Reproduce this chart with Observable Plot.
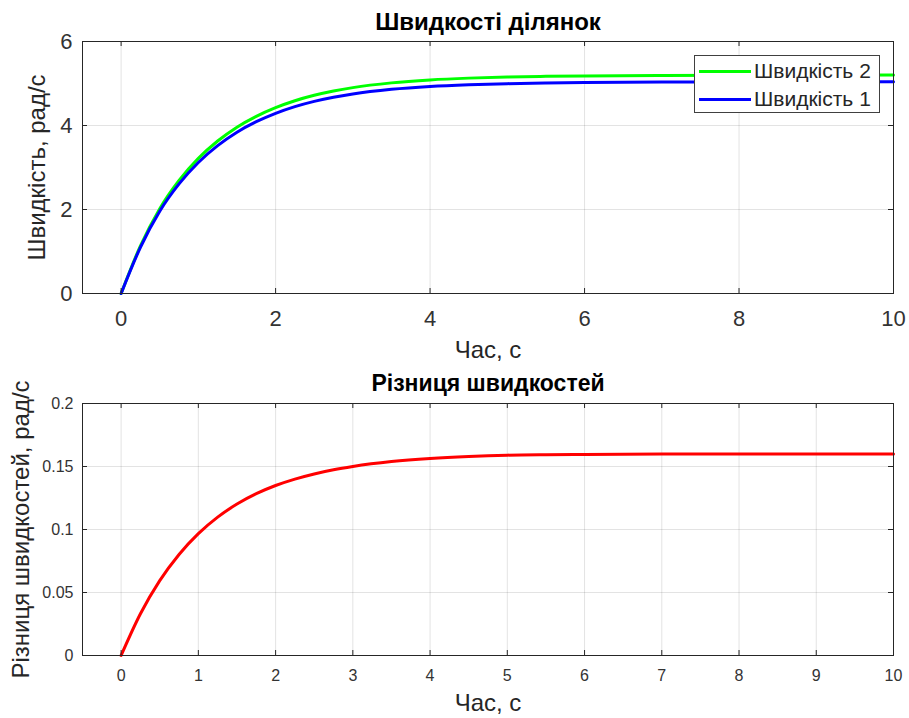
<!DOCTYPE html>
<html>
<head>
<meta charset="utf-8">
<script src="https://cdn.jsdelivr.net/npm/d3@7"></script>
<script src="https://cdn.jsdelivr.net/npm/@observablehq/plot@0.6"></script>
<style>
  body { margin: 0; background: #fff; }
  #wrap { position: relative; width: 909px; height: 718px; font-family: "Liberation Sans", Arial, sans-serif; }
  #wrap svg { display: block; }
  .legend { position: absolute; left: 694px; top: 55px; width: 186px; height: 58px; box-sizing: border-box;
            border: 1px solid #404040; background: #fff; }
  .legend .item { position: absolute; left: 4px; height: 24px; display: flex; align-items: center;
                  font-size: 21px; color: #262626; white-space: nowrap; }
  .legend .swatch { width: 52px; height: 3px; margin-right: 3px; }
</style>
</head>
<body>
<div id="wrap">
  <div id="top"></div>
  <div id="bottom"></div>
</div>
<script>
// ---- data ----
const time      = [0, 0.25, 0.5, 0.75, 1, 1.25, 1.5, 1.75, 2, 2.25, 2.5, 2.75, 3, 3.5, 4, 4.5, 5, 5.5, 6, 7, 8, 10];
const speed1    = [0, 1.10, 1.96, 2.61, 3.12, 3.52, 3.84, 4.09, 4.29, 4.45, 4.575, 4.674, 4.752, 4.861, 4.929, 4.97, 4.996, 5.011, 5.021, 5.033, 5.038, 5.04];
const speed2    = [0, 1.133, 2.019, 2.69, 3.217, 3.63, 3.96, 4.218, 4.425, 4.59, 4.719, 4.821, 4.902, 5.015, 5.085, 5.128, 5.155, 5.17, 5.181, 5.193, 5.198, 5.20];
const speedDiff = [0, 0.0331, 0.0594, 0.0802, 0.0967, 0.1098, 0.1202, 0.1284, 0.1349, 0.140, 0.1441, 0.1474, 0.150, 0.1539, 0.1564, 0.158, 0.159, 0.1594, 0.1596, 0.1599, 0.160, 0.160];

const seriesNames = ["Швидкість 2", "Швидкість 1"];
const seriesColors = ["#00ff00", "#0000ff"];
const diffColor = "#ff0000";

const topTitle = "Швидкості ділянок";
const bottomTitle = "Різниця швидкостей";
const xLabel = "Час, с";
const topYLabel = "Швидкість, рад/с";
const bottomYLabel = "Різниця швидкостей, рад/с";

const topXTicks = [0, 2, 4, 6, 8, 10];
const topYTicks = [0, 2, 4, 6];
const bottomXTicks = [0, 1, 2, 3, 4, 5, 6, 7, 8, 9, 10];
const bottomYTicks = [0, 0.05, 0.1, 0.15, 0.2];
const bottomYTickLabels = ["0", "0.05", "0.1", "0.15", "0.2"];

// ---- tables ----
const rows = time.map((t, i) => ({t, v1: speed1[i], v2: speed2[i], d: speedDiff[i]}));

const FONT = '"Liberation Sans", Arial, sans-serif';
const AX = "#262626";
const GRID = {stroke: "#262626", strokeOpacity: 0.13};
const W = 909, ML = 82, MR = 16;

function inwardTicks(xt, yt, plotW, plotH) {
  return [
    Plot.tickX(xt, {x: d => d, insetTop: plotH - 5, stroke: AX}),
    Plot.tickX(xt, {x: d => d, insetBottom: plotH - 5, stroke: AX}),
    Plot.tickY(yt, {y: d => d, insetRight: plotW - 5, stroke: AX}),
    Plot.tickY(yt, {y: d => d, insetLeft: plotW - 5, stroke: AX})
  ];
}

function label(text, opts) {
  return Plot.text([text], {text: d => d, textAnchor: "middle", lineAnchor: "middle", ...opts});
}

// ---- top panel ----
{
  const H = 370, MT = 41, MB = 77;
  const plotW = W - ML - MR, plotH = H - MT - MB;
  const chart = Plot.plot({
    width: W, height: H, marginTop: MT, marginBottom: MB, marginLeft: ML, marginRight: MR,
    style: {fontFamily: FONT, color: AX, background: "#fff", overflow: "visible"},
    x: {domain: [-0.5, 10]},
    y: {domain: [0, 6]},
    marks: [
      Plot.gridX(topXTicks, GRID),
      Plot.gridY(topYTicks, GRID),
      Plot.line(rows, {x: "t", y: "v2", stroke: seriesColors[0], strokeWidth: 3, curve: "monotone-x"}),
      Plot.line(rows, {x: "t", y: "v1", stroke: seriesColors[1], strokeWidth: 3, curve: "monotone-x"}),
      ...inwardTicks(topXTicks.filter(d => d < 10), topYTicks.filter(d => d > 0 && d < 6), plotW, plotH),
      Plot.axisX(topXTicks, {tickSize: 0, tickPadding: 17, fontSize: 22, label: null, fill: "#333"}),
      Plot.axisY(topYTicks, {tickSize: 0, tickPadding: 10, fontSize: 22, label: null, fill: "#333"}),
      Plot.frame({stroke: AX}),
      label(xLabel, {frameAnchor: "bottom", dy: 57, fontSize: 24, fill: "#262626"}),
      label(topYLabel, {frameAnchor: "left", dx: -45, rotate: -90, fontSize: 24, fill: "#262626"}),
      label(topTitle, {frameAnchor: "top", dy: -19, fontSize: 24, fontWeight: "bold", fill: "#000"})
    ]
  });
  document.getElementById("top").append(chart);
}

// ---- bottom panel ----
{
  const H = 348, MT = 33, MB = 63;
  const plotW = W - ML - MR, plotH = H - MT - MB;
  const chart = Plot.plot({
    width: W, height: H, marginTop: MT, marginBottom: MB, marginLeft: ML, marginRight: MR,
    style: {fontFamily: FONT, color: AX, background: "#fff", overflow: "visible"},
    x: {domain: [-0.5, 10]},
    y: {domain: [0, 0.2]},
    marks: [
      Plot.gridX(bottomXTicks, GRID),
      Plot.gridY(bottomYTicks, GRID),
      Plot.line(rows, {x: "t", y: "d", stroke: diffColor, strokeWidth: 3, curve: "monotone-x"}),
      ...inwardTicks(bottomXTicks.filter(d => d < 10), bottomYTicks.filter(d => d > 0 && d < 0.2), plotW, plotH),
      Plot.axisX(bottomXTicks, {tickSize: 0, tickPadding: 14, fontSize: 16, label: null, fill: "#333"}),
      Plot.axisY(bottomYTicks, {tickSize: 0, tickPadding: 9, fontSize: 16, label: null, fill: "#333",
                                tickFormat: d => bottomYTickLabels[bottomYTicks.indexOf(d)]}),
      Plot.frame({stroke: AX}),
      label(xLabel, {frameAnchor: "bottom", dy: 48, fontSize: 24, fill: "#262626"}),
      label(bottomYLabel, {frameAnchor: "left", dx: -61, rotate: -90, fontSize: 24, fill: "#262626"}),
      label(bottomTitle, {frameAnchor: "top", dy: -20, fontSize: 23, fontWeight: "bold", fill: "#000"})
    ]
  });
  document.getElementById("bottom").append(chart);
}

// ---- legend (top panel) ----
{
  const lg = document.createElement("div");
  lg.className = "legend";
  seriesNames.forEach((name, i) => {
    const item = document.createElement("div");
    item.className = "item";
    item.style.top = (3 + i * 28) + "px";
    const sw = document.createElement("span");
    sw.className = "swatch";
    sw.style.background = seriesColors[i];
    const tx = document.createElement("span");
    tx.textContent = name;
    item.append(sw, tx);
    lg.append(item);
  });
  document.getElementById("wrap").append(lg);
}
</script>
</body>
</html>
